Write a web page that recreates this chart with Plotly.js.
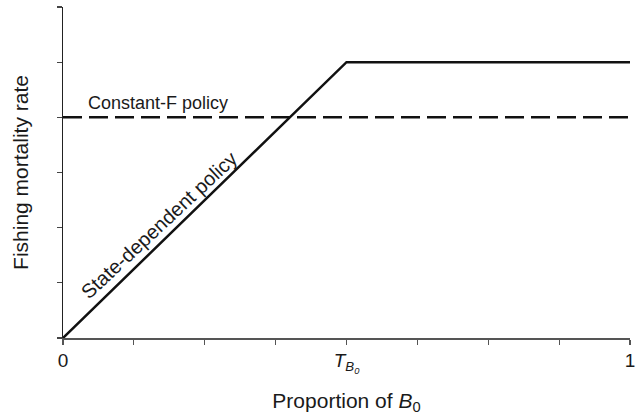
<!DOCTYPE html>
<html>
<head>
<meta charset="utf-8">
<script src="https://cdn.plot.ly/plotly-3.0.1.min.js"></script>
<style>html,body{margin:0;padding:0;background:#fff;}#chart{width:637px;height:417px;}</style>
</head>
<body>
<div id="chart"></div>
<script>
// Data
const stateX = [0, 0.5, 1];
const stateY = [0, 5, 5];
const constX = [0, 1];
const constY = [4, 4];
const xLabelVals = [0, 0.5, 1];
const xLabelText = ['0', '<i>T</i><sub><i>B</i><sub><i>0</i></sub></sub>', '1'];
const xMinorVals = [0, 0.125, 0.25, 0.375, 0.5, 0.625, 0.75, 0.875, 1];
const yTickVals = [0, 1, 2, 3, 4, 5, 6];

const font = {family: 'Liberation Sans, Arial, sans-serif', color: '#1a1a1a'};
const f = s => Object.assign({size: s}, font);

const traces = [
  {x: stateX, y: stateY, mode: 'lines', line: {color: '#111', width: 2.5}, hoverinfo: 'skip', cliponaxis: false},
  {x: constX, y: constY, mode: 'lines', line: {color: '#111', width: 2.5, dash: '19px,7px'}, hoverinfo: 'skip', cliponaxis: false}
];

const layout = {
  width: 637, height: 417,
  margin: {l: 63, r: 7, t: 7, b: 79},
  paper_bgcolor: '#fff', plot_bgcolor: '#fff',
  showlegend: false,
  font: f(18),
  xaxis: {
    range: [0, 1], showgrid: false, zeroline: false,
    showline: true, linecolor: '#555', linewidth: 1.5,
    tickmode: 'array', tickvals: xLabelVals, ticktext: xLabelText,
    ticks: 'outside', ticklen: 5, tickwidth: 1.2, tickcolor: '#555',
    minor: {tickmode: 'array', tickvals: xMinorVals, ticks: 'outside', ticklen: 5, tickwidth: 1.2, tickcolor: '#555', showgrid: false},
    tickfont: f(19),
    title: {text: 'Proportion of <i>B</i><sub>0</sub>', font: f(21), standoff: 18}
  },
  yaxis: {
    range: [0, 6], showgrid: false, zeroline: false,
    showline: true, linecolor: '#222', linewidth: 1.5,
    ticks: 'outside', ticklen: 5, tickwidth: 1.2, tickcolor: '#444',
    tickvals: yTickVals, showticklabels: false,
    title: {text: 'Fishing mortality rate', font: f(21), standoff: 22}
  },
  annotations: [
    {x: 0.04, y: 4, xref: 'x', yref: 'y', text: 'Constant-F policy', showarrow: false,
     xanchor: 'left', yanchor: 'bottom', yshift: 2, font: f(18)},
    {x: 0.17, y: 2.04, xref: 'x', yref: 'y', text: 'State-dependent policy', showarrow: false,
     textangle: -43, font: f(20)}
  ]
};

Plotly.newPlot('chart', traces, layout, {displayModeBar: false, staticPlot: true});
</script>
</body>
</html>
